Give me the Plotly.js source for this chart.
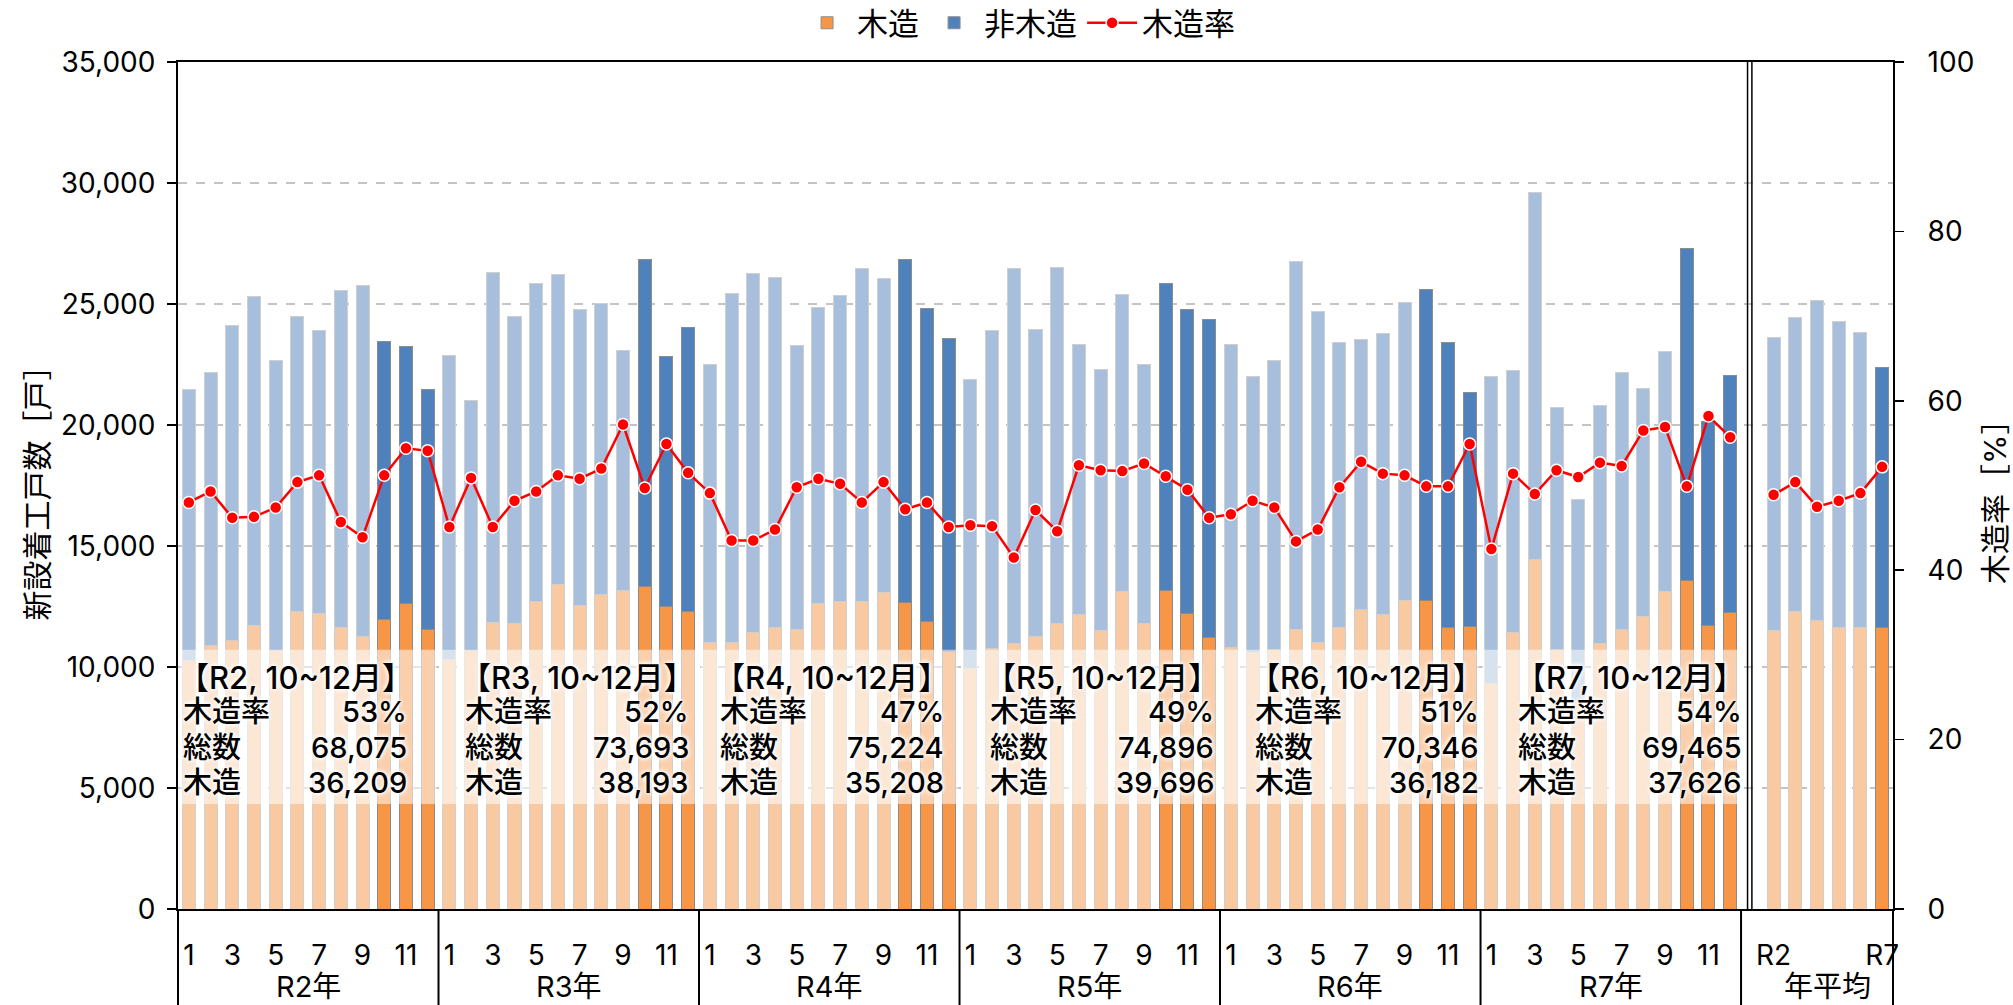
<!DOCTYPE html>
<html>
<head>
<meta charset="utf-8">
<script src="https://cdn.plot.ly/plotly-3.0.1.min.js"></script>
<style>
html,body{margin:0;padding:0;background:#fff;}
#chart{width:2013px;height:1005px;}
</style>
</head>
<body>
<div id="chart"></div>
<script>
// ---------------- DATA ----------------
const years = ['R2', 'R3', 'R4', 'R5', 'R6', 'R7'];
const yearLabels = ['R2年', 'R3年', 'R4年', 'R5年', 'R6年', 'R7年'];
const months = [1, 2, 3, 4, 5, 6, 7, 8, 9, 10, 11, 12];
const monthTickLabels = ['1', '3', '5', '7', '9', '11'];
const highlightMonths = [10, 11, 12];

// 総数 (total starts) per month
const totalR2 = [21450, 22180, 24120, 25300, 22650, 24490, 23900, 25540, 25780, 23430, 23250, 21450];
const totalR3 = [22860, 21010, 26300, 24490, 25830, 26230, 24760, 25030, 23090, 26850, 22840, 24030];
const totalR4 = [22480, 25440, 26280, 26110, 23290, 24860, 25370, 26480, 26050, 26850, 24830, 23580];
const totalR5 = [21900, 23920, 26450, 23950, 26500, 23330, 22290, 25410, 22480, 25840, 24760, 24350];
const totalR6 = [23320, 21990, 22650, 26750, 24700, 23420, 23520, 23780, 25070, 25580, 23420, 21350];
const totalR7 = [21990, 22270, 29590, 20710, 16910, 20810, 22170, 21510, 23020, 27290, 20140, 22050];

// 木造 (wooden) per month
const woodR2 = [10280, 10900, 11110, 11700, 10700, 12310, 12220, 11640, 11280, 11950, 12620, 11570];
const woodR3 = [10290, 10700, 11820, 11780, 12690, 13390, 12560, 12980, 13180, 13320, 12490, 12310];
const woodR4 = [11000, 11030, 11410, 11650, 11540, 12610, 12690, 12690, 13080, 12650, 11890, 10660];
const woodR5 = [9930, 10780, 10960, 11240, 11780, 12190, 11520, 13110, 11780, 13160, 12220, 11210];
const woodR6 = [10810, 10620, 10740, 11550, 11010, 11620, 12370, 12180, 12760, 12740, 11620, 11680];
const woodR7 = [9330, 11410, 14440, 10710, 8610, 10960, 11570, 12090, 13110, 13580, 11700, 12250];

// 木造率 (%) per month
const rateR2 = [48.0, 49.3, 46.2, 46.3, 47.4, 50.4, 51.2, 45.7, 43.9, 51.2, 54.4, 54.1];
const rateR3 = [45.1, 50.9, 45.1, 48.2, 49.3, 51.2, 50.8, 52.0, 57.2, 49.7, 54.9, 51.5];
const rateR4 = [49.1, 43.5, 43.5, 44.8, 49.8, 50.8, 50.2, 48.0, 50.4, 47.2, 48.0, 45.1];
const rateR5 = [45.3, 45.2, 41.5, 47.1, 44.6, 52.4, 51.8, 51.7, 52.6, 51.1, 49.5, 46.2];
const rateR6 = [46.6, 48.2, 47.4, 43.4, 44.8, 49.8, 52.8, 51.4, 51.2, 49.9, 49.9, 54.9];
const rateR7 = [42.5, 51.4, 49.0, 51.8, 51.0, 52.7, 52.3, 56.5, 56.9, 49.9, 58.2, 55.7];

// 年平均
const avgLabels = ['R2', 'R3', 'R4', 'R5', 'R6', 'R7'];
const avgTickLabels = ['R2', 'R7'];
const avgHighlight = ['R7'];
const totalAvg = [23630, 24450, 25130, 24260, 23820, 22380];
const woodAvg = [11520, 12280, 11910, 11640, 11640, 11640];
const rateAvg = [48.9, 50.4, 47.5, 48.2, 49.1, 52.2];
const avgGroupLabel = '年平均';

// 10~12月 summary boxes
const summaryTitle = ['【R2, 10~12月】', '【R3, 10~12月】', '【R4, 10~12月】', '【R5, 10~12月】', '【R6, 10~12月】', '【R7, 10~12月】'];
const summaryRate = ['53%', '52%', '47%', '49%', '51%', '54%'];
const summaryTotal = ['68,075', '73,693', '75,224', '74,896', '70,346', '69,465'];
const summaryWood = ['36,209', '38,193', '35,208', '39,696', '36,182', '37,626'];
const summaryRowLabels = ['木造率', '総数', '木造'];

const seriesNames = ['木造', '非木造', '木造率'];
const yTitle = '新設着工戸数［戸］';
const y2Title = '木造率［%］';

// ---------------- BUILD ----------------
const totals = [totalR2, totalR3, totalR4, totalR5, totalR6, totalR7];
const woods = [woodR2, woodR3, woodR4, woodR5, woodR6, woodR7];
const rates = [rateR2, rateR3, rateR4, rateR5, rateR6, rateR7];

const nMonthSlots = years.length * months.length; // 72
const gapSlots = 1;
const avgStart = nMonthSlots + gapSlots; // 73
const nSlots = avgStart + avgLabels.length; // 79

const C = {
  woodDark: '#F79646', woodLight: '#F9C9A2',
  nonDark: '#4F81BD', nonLight: '#A7BFDC',
  edgeDark: '#8c8c8c', edgeLight: '#cfcfcf'
};

const bx = [], bWood = [], bNon = [], bHi = [];
years.forEach((yr, yi) => {
  months.forEach((m, mi) => {
    bx.push(yi * months.length + mi);
    bWood.push(woods[yi][mi]);
    bNon.push(totals[yi][mi] - woods[yi][mi]);
    bHi.push(highlightMonths.includes(m));
  });
});
avgLabels.forEach((lab, k) => {
  bx.push(avgStart + k);
  bWood.push(woodAvg[k]);
  bNon.push(totalAvg[k] - woodAvg[k]);
  bHi.push(avgHighlight.includes(lab));
});

function pick(arr, hi) { return arr.map((v, i) => (bHi[i] === hi ? v : null)); }

const barCommon = { type: 'bar', x: bx, width: 0.6, hoverinfo: 'skip' };
const traces = [
  Object.assign({}, barCommon, { name: seriesNames[0], y: pick(bWood, true), legendgroup: 'w',
    marker: { color: C.woodDark, line: { color: C.edgeDark, width: 1 } } }),
  Object.assign({}, barCommon, { name: seriesNames[0], y: pick(bWood, false), legendgroup: 'w', showlegend: false,
    marker: { color: C.woodLight, line: { color: C.edgeLight, width: 1 } } }),
  Object.assign({}, barCommon, { name: seriesNames[1], y: pick(bNon, true), legendgroup: 'n',
    marker: { color: C.nonDark, line: { color: C.edgeDark, width: 1 } } }),
  Object.assign({}, barCommon, { name: seriesNames[1], y: pick(bNon, false), legendgroup: 'n', showlegend: false,
    marker: { color: C.nonLight, line: { color: C.edgeLight, width: 1 } } })
];

// rate line (break between months and annual averages)
const rx = [], ry = [];
years.forEach((yr, yi) => months.forEach((m, mi) => { rx.push(yi * months.length + mi); ry.push(rates[yi][mi]); }));
rx.push(nMonthSlots); ry.push(null);
avgLabels.forEach((lab, k) => { rx.push(avgStart + k); ry.push(rateAvg[k]); });
traces.push({
  type: 'scatter', mode: 'lines+markers', name: seriesNames[2], x: rx, y: ry, yaxis: 'y2',
  connectgaps: false, hoverinfo: 'skip',
  line: { color: '#FF0000', width: 2.5 },
  marker: { color: '#FF0000', size: 12, line: { color: '#ffffff', width: 1.5 } }
});

// ticks
const tickvals = [], ticktext = [];
years.forEach((yr, yi) => months.forEach((m, mi) => {
  if (monthTickLabels.includes(String(m))) { tickvals.push(yi * months.length + mi); ticktext.push(String(m)); }
}));
avgLabels.forEach((lab, k) => { if (avgTickLabels.includes(lab)) { tickvals.push(avgStart + k); ticktext.push(lab); } });

const FONT = 'Inter, "Noto Sans CJK JP", "Noto Sans", sans-serif';
const toPaperX = v => (v + 0.5) / nSlots;

const shapes = [];
const annotations = [];
// group separators below axis
const boundaries = [-0.5];
years.forEach((yr, yi) => boundaries.push(yi * months.length + months.length - 0.5));
boundaries.push(nSlots - 0.5);
boundaries.forEach(b => shapes.push({ type: 'line', xref: 'paper', yref: 'paper',
  x0: toPaperX(b), x1: toPaperX(b), y0: 0, y1: -0.115, line: { color: '#000', width: 2 } }));
// double line before annual averages
[nMonthSlots - 0.5 + 0.3, nMonthSlots - 0.5 + 0.5].forEach(v => shapes.push({ type: 'line', xref: 'paper', yref: 'paper',
  x0: toPaperX(v), x1: toPaperX(v), y0: 0, y1: 1, line: { color: '#000', width: 1.5 } }));

// group labels
years.forEach((yr, yi) => annotations.push({ xref: 'x', yref: 'paper', x: yi * months.length + (months.length - 1) / 2,
  y: -0.091, text: yearLabels[yi], showarrow: false, font: { family: FONT, size: 29, color: '#000' }, yanchor: 'middle' }));
annotations.push({ xref: 'x', yref: 'paper', x: avgStart + (avgLabels.length - 1) / 2, y: -0.091, text: avgGroupLabel,
  showarrow: false, font: { family: FONT, size: 29, color: '#000' }, yanchor: 'middle' });

// summary boxes
const boxLeft = [-0.36, 12.63, 24.37, 36.81, 49.02, 61.13];
const boxWidth = 10.5;
const rowY = [0.2337, 0.1912, 0.1499];
const glow = '0px 0px 4px #fff, 0px 0px 4px #fff, 0px 0px 6px #fff';
const sFont = { family: FONT, size: 29, color: '#000', weight: 500, shadow: glow };
const tFont = { family: FONT, size: 31, color: '#000', weight: 500, shadow: glow };
years.forEach((yr, yi) => {
  const x0 = yi * months.length - 0.5 + 0.08, x1 = yi * months.length + months.length - 0.5 - 0.08;
  shapes.push({ type: 'rect', xref: 'x', yref: 'paper', x0: x0, x1: x1, y0: 0.124, y1: 0.306,
    fillcolor: 'rgba(255,255,255,0.55)', line: { width: 0 }, layer: 'above' });
  const L = boxLeft[yi], R = L + boxWidth;
  annotations.push({ xref: 'x', yref: 'paper', x: (L + R) / 2, y: 0.2738, text: summaryTitle[yi], showarrow: false,
    xanchor: 'center', yanchor: 'middle', font: tFont });
  const vals = [summaryRate[yi], summaryTotal[yi], summaryWood[yi]];
  summaryRowLabels.forEach((lab, r) => {
    annotations.push({ xref: 'x', yref: 'paper', x: L, y: rowY[r], text: lab, showarrow: false,
      xanchor: 'left', yanchor: 'middle', font: sFont });
    annotations.push({ xref: 'x', yref: 'paper', x: R, y: rowY[r], text: vals[r], showarrow: false,
      xanchor: 'right', yanchor: 'middle', font: sFont });
  });
});

// axis titles
annotations.push({ xref: 'paper', yref: 'paper', x: (36 - 178) / 1715, y: 0.5, text: yTitle, textangle: -90,
  showarrow: false, xanchor: 'center', yanchor: 'middle', font: { family: FONT, size: 30, color: '#000' } });
annotations.push({ xref: 'paper', yref: 'paper', x: (1995 - 178) / 1715, y: 0.49, text: y2Title, textangle: -90,
  showarrow: false, xanchor: 'center', yanchor: 'middle', font: { family: FONT, size: 30, color: '#000' } });

const layout = {
  width: 2013, height: 1005,
  margin: { l: 178, r: 120, t: 62, b: 96, pad: 0 },
  paper_bgcolor: '#fff', plot_bgcolor: '#fff',
  barmode: 'stack', bargap: 0.4,
  font: { family: FONT, size: 28, color: '#000' },
  showlegend: true,
  legend: { orientation: 'h', xref: 'container', yref: 'container', x: 0.506, xanchor: 'center', y: 0.977, yanchor: 'middle',
    font: { family: FONT, size: 31, color: '#000' }, traceorder: 'normal', itemwidth: 50, bgcolor: 'rgba(0,0,0,0)' },
  xaxis: {
    range: [-0.5, nSlots - 0.5], showline: true, mirror: true, linecolor: '#000', linewidth: 2,
    ticks: '', tickvals: tickvals, ticktext: ticktext, showgrid: false, zeroline: false,
    tickfont: { family: FONT, size: 28, color: '#000' }, ticklabelstandoff: 20
  },
  yaxis: {
    range: [0, 35000], dtick: 5000, tickformat: ',d', showline: true, linecolor: '#000', linewidth: 2,
    ticks: 'outside', ticklen: 9, tickwidth: 1.5, tickcolor: '#000',
    showgrid: true, gridcolor: '#c4c4c4', griddash: 'dash', gridwidth: 1.5, zeroline: false,
    tickfont: { family: FONT, size: 28, color: '#000' }, ticklabelstandoff: 6
  },
  yaxis2: {
    overlaying: 'y', side: 'right', range: [0, 100], dtick: 20, showline: true, linecolor: '#000', linewidth: 2,
    ticks: 'outside', ticklen: 9, tickwidth: 1.5, tickcolor: '#000', showgrid: false, zeroline: false,
    tickfont: { family: FONT, size: 28, color: '#000' }, ticklabelstandoff: 18
  },
  shapes: shapes,
  annotations: annotations
};

Plotly.newPlot('chart', traces, layout, { staticPlot: true, displayModeBar: false });
</script>
</body>
</html>
